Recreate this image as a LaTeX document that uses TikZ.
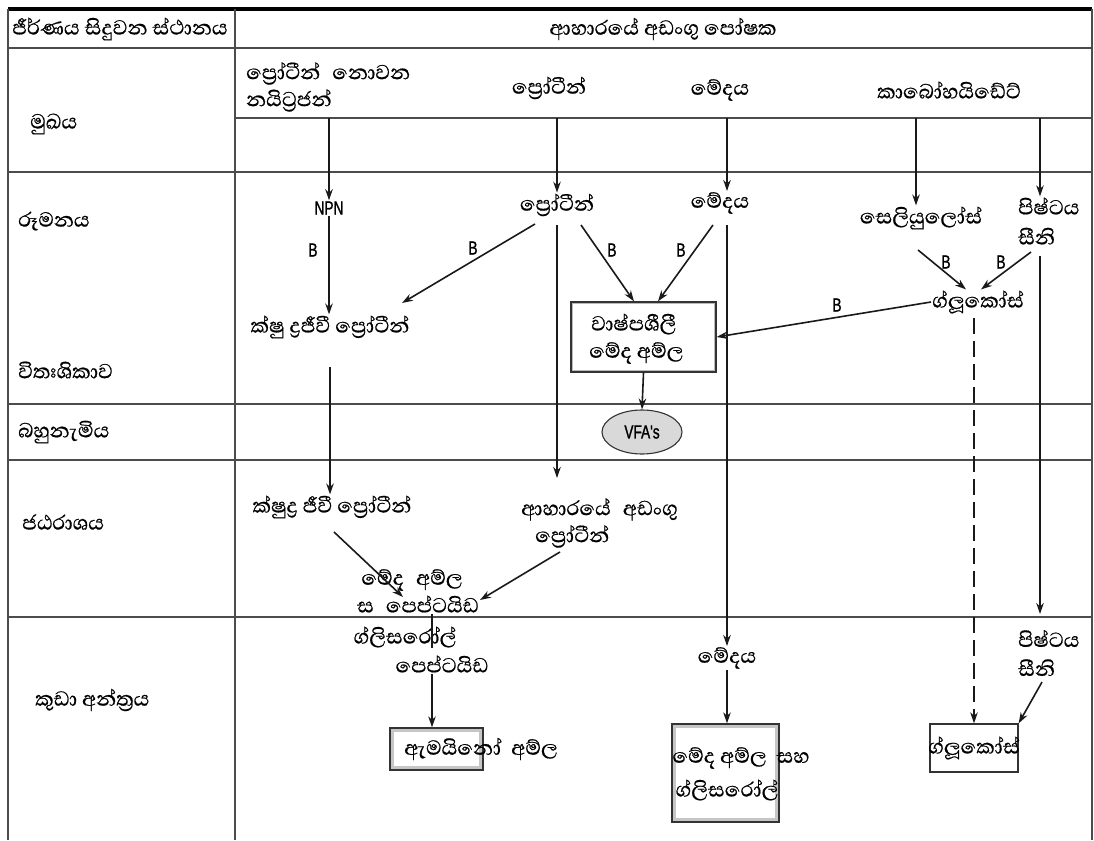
\documentclass[tikz,border=0pt]{standalone}
\usepackage{fontspec}
\newfontfamily\sinfont[Script=Sinhala, FakeBold=0.6]{Abhaya Libre}
\newfontfamily\narrowsans[FakeStretch=0.72, FakeBold=1.2]{Liberation Sans}
\usetikzlibrary{arrows.meta,shapes.geometric}
\tikzset{
  gridline/.style={draw=black!70, line width=1.5pt},
  txt/.style={font=\sinfont\fontsize{26}{27}\selectfont, inner sep=1pt},
  lat/.style={font=\narrowsans\fontsize{19}{20}\selectfont, inner sep=1pt},
  arr/.style={-{Stealth[length=11pt,width=7.5pt]}, line width=1.6pt, black!90},
  plain/.style={line width=1.6pt, black!90},
  dbox/.style={draw=black!80, line width=1.3pt, inner sep=0pt,
    path picture={\draw[gray!45, line width=8pt] (path picture bounding box.south west) rectangle (path picture bounding box.north east);}},
  tbox/.style={draw=black!80, line width=1.3pt, inner sep=0pt,
    path picture={\draw[gray!55, line width=4pt] (path picture bounding box.south west) rectangle (path picture bounding box.north east);}},
}
\newcommand{\wsp}{\hspace{12pt}}
\begin{document}
\begin{tikzpicture}[x=1pt,y=-1pt]
\useasboundingbox (0,0) rectangle (1094,840);
% ---------- table grid ----------
\draw[line width=3.5pt] (8,9) -- (1092,9);
\draw[gridline] (8,9) -- (8,840);
\draw[gridline] (235,9) -- (235,840);
\draw[gridline] (1092,9) -- (1092,840);
\draw[gridline] (8,48) -- (1092,48);
\draw[gridline] (235,118) -- (1092,118);
\draw[gridline] (8,172) -- (1092,172);
\draw[gridline] (8,404) -- (1092,404);
\draw[gridline] (8,460) -- (1092,460);
\draw[gridline] (8,617) -- (1092,617);
% ---------- headers ----------
\node[txt] (hdrL) at (120,29) {ජීර්ණය සිදුවන ස්ථානය};
\node[txt] (hdrR) at (663,29) {ආහාරයේ අඩංගු පෝෂක};
% ---------- left labels ----------
\node[txt, anchor=west] (mouth) at (29,124) {මුඛය};
\node[txt, anchor=west] (rumen) at (17,221) {රූමනය};
\node[txt, anchor=west] (retic) at (17,370) {විතඃශිකාව};
\node[txt, anchor=west] (omas) at (17,432) {බහුනැමිය};
\node[txt, anchor=west] (abom) at (21,522) {ජඨරාශය};
\node[txt, anchor=west] (sint) at (34,700) {කුඩා අන්ත්‍රය};
% ---------- sources ----------
\node[txt, align=left, anchor=west] (npnsrc) at (245,87) {ප්‍රෝටීන්\wsp නොවන\\නයිට්‍රජන්};
\node[txt] (protsrc) at (549,88) {ප්‍රෝටීන්};
\node[txt] (fatsrc) at (720,90) {මේදය};
\node[txt] (carbsrc) at (949,90) {කාබෝහයිඩේට්};
\coordinate (s1) at (329,118);
\coordinate (s2) at (557,118);
\coordinate (s3) at (727,118);
\coordinate (s4) at (916,118);
\coordinate (s5) at (1040,118);
% ---------- rumen ----------
\node[lat] (npn) at (329,208) {NPN};
\node[txt] (mprot1) at (330,327) {ක්ෂු ද්‍රජීවී ප්‍රෝටීන්};
\node[txt] (prot2) at (557,205) {ප්‍රෝටීන්};
\node[txt] (fat2) at (720,203) {මේදය};
\node[txt] (cell) at (921,218) {සෙලියුලෝස්};
\node[txt, align=left, anchor=west] (starch) at (1017,221) {පිෂ්ටය\\[3pt]සීනි};
\node[txt] (gluc) at (978,302) {ග්ලූකෝස්};
\node[tbox, minimum width=145pt, minimum height=70pt] (vfabox) at (643.5,337) {};
\node[txt, anchor=west] (vfat1) at (590,324) {වාෂ්පශීලී};
\node[txt, anchor=west] (vfat2) at (588,353) {මේද අම්ල};
% ---------- omasum ----------
\node[ellipse, draw=black!80, line width=1.1pt, fill=gray!30, minimum width=80pt, minimum height=44pt, lat] (vfa) at (642,432) {VFA's};
% ---------- abomasum ----------
\node[txt] (mprot2) at (332,507) {ක්ෂුද්‍ර ජීවී ප්‍රෝටීන්};
\node[txt, align=left, anchor=west] (diet) at (520,523) {ආහාරයේ\wsp අඩංගු\\\hspace{14pt}ප්‍රෝටීන්};
\node[txt] (fa1) at (412,580) {මේද\wsp අම්ල};
\node[txt] (fa2) at (418,604) {ස\wsp පෙප්ටයිඩ};
% ---------- small intestine ----------
\node[txt] (gly) at (405,637) {ග්ලිසරෝල්};
\node[txt] (pep) at (442,664) {පෙප්ටයිඩ};
\node[dbox, minimum width=93pt, minimum height=42pt] (aabox) at (436.5,749) {};
\node[txt] (aat) at (481,749) {ඇමයිනෝ\ \ අම්ල};
\node[txt] (fat3) at (727,658) {මේදය};
\node[dbox, minimum width=107pt, minimum height=98pt] (fgbox) at (725.5,773) {};
\node[txt] (fgt1) at (741,758) {මේද අම්ල\ \ සහ};
\node[txt] (fgt2) at (727,790) {ග්ලිසරෝල්};
\node[txt, align=left, anchor=west] (starch2) at (1017,653) {පිෂ්ටය\\[2pt]සීනි};
\node[draw=black!80, line width=1.3pt, minimum width=88pt, minimum height=48pt, inner sep=0pt] (glbox) at (974,748) {};
\node[txt] (glt) at (974,748) {ග්ලූකෝස්};
% ---------- B labels ----------
\node[lat] (b1) at (313,250) {B};
\node[lat] (b2) at (473,248) {B};
\node[lat] (b3) at (612,250) {B};
\node[lat] (b4) at (681,250) {B};
\node[lat] (b5) at (946,262) {B};
\node[lat] (b6) at (1001,262) {B};
\node[lat] (b7) at (837,305) {B};
% ---------- arrows from sources ----------
\draw[arr] (s1) -- (s1 |- npn.north);
\draw[arr] (s2) -- (s2 |- prot2.north);
\draw[arr] (s3) -- (s3 |- fat2.north);
\draw[arr] (s4) -- (s4 |- cell.north);
\draw[arr] (s5) -- (s5 |- starch.north);
% ---------- rumen arrows ----------
\coordinate (p2a) at (535,224);
\coordinate (p2b) at (402,303);
\coordinate (p2c) at (581,225);
\coordinate (f2a) at (713,225);
\coordinate (cla) at (918,250);
\coordinate (sta) at (1031,252);
\coordinate (xa) at (634,0);
\coordinate (xb) at (658,0);
\coordinate (xc) at (966,0);
\coordinate (xd) at (981,0);
\draw[arr] (npn.south) -- (mprot1.north -| npn.south);
\draw[arr] (p2a) -- (p2b);
\draw[arr] (p2c) -- (vfabox.north -| xa);
\draw[arr] (f2a) -- (vfabox.north -| xb);
\draw[arr] (cla) -- (gluc.north -| xc);
\draw[arr] (sta) -- (gluc.north -| xd);
\draw[arr] (gluc.west) -- (vfabox.east);
\draw[arr] (vfabox.south) -- (vfa.north);
% ---------- long verticals ----------
\coordinate (v1a) at (557,225);
\coordinate (v1b) at (557,478);
\coordinate (v2a) at (727,225);
\coordinate (v3a) at (1040,256);
\coordinate (v3b) at (1040,614);
\coordinate (dsa) at (974,318);
\coordinate (m1a) at (330,367);
\draw[arr] (v1a) -- (v1b);
\draw[arr] (v2a) -- (fat3.north -| v2a);
\draw[arr] (v3a) -- (v3b);
\draw[arr, dash pattern=on 16pt off 7pt] (dsa) -- (glbox.north);
\draw[arr] (m1a) -- (mprot2.north -| m1a);
% ---------- abomasum arrows ----------
\coordinate (e1a) at (334,532);
\coordinate (e1b) at (403,597);
\coordinate (e2a) at (560,552);
\coordinate (e2b) at (480,600);
\coordinate (g1a) at (432,614);
\coordinate (g1b) at (432,648);
\coordinate (sia) at (1042,682);
\draw[arr] (e1a) -- (e1b);
\draw[arr] (e2a) -- (e2b);
\draw[plain] (g1a) -- (g1b);
\draw[arr] (pep.south -| g1a) -- (aabox.north -| g1a);
\draw[arr] (fat3.south -| v2a) -- (fgbox.north -| v2a);
\draw[arr] (sia) -- (glbox.north east);
\end{tikzpicture}
\end{document}
